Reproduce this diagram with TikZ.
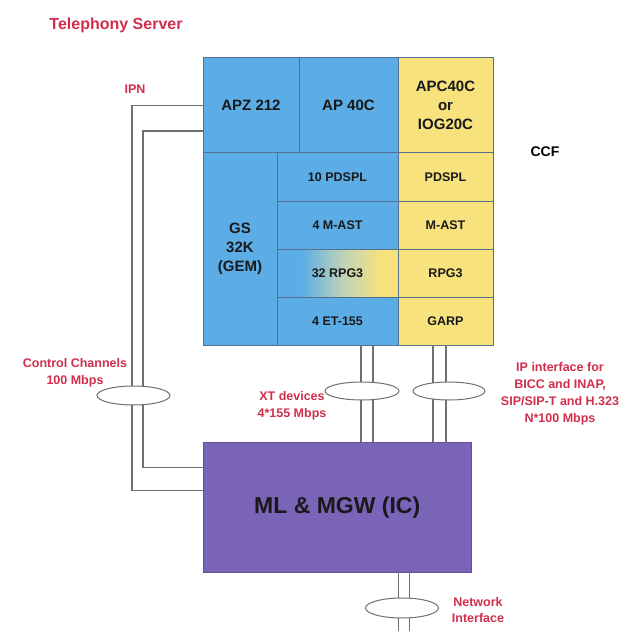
\documentclass[tikz,border=0pt]{standalone}
\usepackage{fontspec}
\setmainfont{Liberation Sans}
\usetikzlibrary{shapes.geometric,positioning,calc}

\definecolor{cellblue}{HTML}{5CADE6}
\definecolor{cellyellow}{HTML}{F8E27E}
\definecolor{mgwpurple}{HTML}{7A64B8}
\definecolor{labelred}{HTML}{D02E4C}
\definecolor{edgegray}{HTML}{52708C}
\definecolor{wiregray}{HTML}{707070}

\pgfdeclarehorizontalshading{rpgfade}{100bp}{color(0bp)=(cellblue); color(25bp)=(cellblue); color(35bp)=(cellblue); color(52bp)=(cellblue!45!cellyellow!85!white); color(68bp)=(cellyellow); color(100bp)=(cellyellow)}

\begin{document}
\begin{tikzpicture}[x=1pt, y=-1pt,
    cell/.style={rectangle, draw=edgegray, line width=1pt, fill=cellblue, inner sep=0pt, outer sep=0pt, align=center, text=black!90, font=\bfseries\fontsize{15}{19}\selectfont},
    ycell/.style={cell, fill=cellyellow},
    slot/.style={cell, minimum height=48pt, font=\bfseries\fontsize{12.5}{14}\selectfont},
    yslot/.style={slot, fill=cellyellow, minimum width=95pt},
    wire/.style={draw=wiregray, line width=1.2pt},
    ring/.style={ellipse, draw=wiregray, line width=1pt, fill=white, inner sep=0pt},
    lbl/.style={text=labelred, align=center, font=\bfseries\fontsize{12.5}{17}\selectfont}
]
\useasboundingbox (0,0) rectangle (624,631);

% Top row
\node[cell, anchor=north west, minimum width=96pt, minimum height=95pt] (apz) at (203,58) {APZ 212};
\node[cell, right=0pt of apz, minimum width=99pt, minimum height=95pt] (ap) {AP 40C};
\node[ycell, right=0pt of ap, minimum width=95pt, minimum height=95pt] (apc) {APC40C\\or\\IOG20C};

% Group switch
\node[cell, anchor=north west, minimum width=74pt, minimum height=192pt] (gs) at (apz.south west) {GS\\32K\\(GEM)};

% Middle column
\node[slot, anchor=north west, minimum width=121pt] (pdspl) at (gs.north east) {10 PDSPL};
\node[slot, below=0pt of pdspl, minimum width=121pt] (mast) {4 M-AST};
\node[slot, below=0pt of mast, minimum width=121pt, shading=rpgfade] (rpg) {32 RPG3};
\node[slot, below=0pt of rpg, minimum width=121pt] (et) {4 ET-155};

% Right column
\node[yslot, right=0pt of pdspl] (ypdspl) {PDSPL};
\node[yslot, right=0pt of mast] (ymast) {M-AST};
\node[yslot, right=0pt of rpg] (yrpg) {RPG3};
\node[yslot, right=0pt of et] (garp) {GARP};

% Media gateway
\node[rectangle, draw=mgwpurple!80!black, fill=mgwpurple, anchor=north west, minimum width=268pt, minimum height=130pt, text=black!90, font=\bfseries\fontsize{23}{27}\selectfont] (mgw) at (203,442) {ML \& MGW (IC)};
\coordinate (netbot) at (0,631);

% Links
\draw[wire] (apz.west) -- ++(-71,0) |- ([yshift=17pt]mgw.west);
\draw[wire] ([yshift=-25.5pt]apz.west) -- ++(-60,0) |- ([yshift=40pt]mgw.west);
\draw[wire] ([xshift=23.5pt]et.south) -- ([xshift=23.5pt]et.south |- mgw.north);
\draw[wire] ([xshift=35.5pt]et.south) -- ([xshift=35.5pt]et.south |- mgw.north);
\draw[wire] ([xshift=-12.5pt]garp.south) -- ([xshift=-12.5pt]garp.south |- mgw.north);
\draw[wire] ([xshift=0.5pt]garp.south) -- ([xshift=0.5pt]garp.south |- mgw.north);
\draw[wire] ([xshift=61pt]mgw.south) -- ([xshift=61pt]mgw.south |- netbot);
\draw[wire] ([xshift=72pt]mgw.south) -- ([xshift=72pt]mgw.south |- netbot);

% Bundles
\node[ring, minimum width=73pt, minimum height=19pt] (ctlring) at (133.5,395.5) {};
\node[ring, minimum width=74pt, minimum height=18pt] (xtring) at (362,391) {};
\node[ring, minimum width=72pt, minimum height=18pt] (ipring) at (449,391) {};
\node[ring, minimum width=73pt, minimum height=20pt] (netring) at (402,608) {};

% Labels
\node[lbl, font=\bfseries\fontsize{16}{19}\selectfont] (title) at (116,25) {Telephony Server};
\node[lbl] (ipn) at (135,89) {IPN};
\node[font=\bfseries\fontsize{14}{17}\selectfont] (ccf) at (545,152) {CCF};
\node[lbl] (ctllbl) at (75,372.5) {Control Channels\\100 Mbps};
\node[lbl] (xtlbl) at (292,406) {XT devices\\4*155 Mbps};
\node[lbl] (iplbl) at (560,393.5) {IP interface for\\BICC and INAP,\\SIP/SIP-T and H.323\\N*100 Mbps};
\node[lbl, font=\bfseries\fontsize{12.5}{16}\selectfont] (netlbl) at (478,610) {Network\\Interface};

\end{tikzpicture}
\end{document}
